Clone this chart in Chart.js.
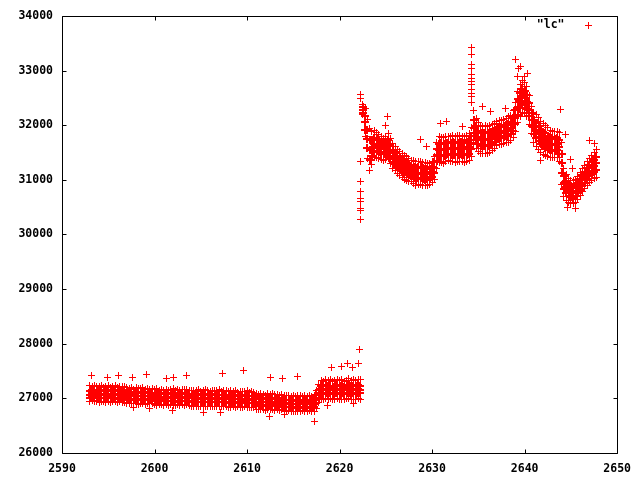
<!DOCTYPE html>
<html><head><meta charset="utf-8">
<script src="https://cdn.jsdelivr.net/npm/chart.js@4"></script>
<style>html,body{margin:0;padding:0;background:#fff}#wrap{width:640px;height:480px}</style>
</head><body><div id="wrap"><canvas id="c" width="640" height="480"></canvas></div>
<script>
const seriesName = '"lc"';
const xTicks = [2590, 2600, 2610, 2620, 2630, 2640, 2650];
const yTicks = [26000, 27000, 28000, 29000, 30000, 31000, 32000, 33000, 34000];

// low-state segment (times and five value rows read across the band)
const lowTimes = [2593,2593.25,2593.5,2593.75,2594,2594.25,2594.5,2594.75,2595,2595.25,2595.5,2595.75,2596,2596.25,2596.5,2596.75,2597,2597.25,2597.5,2597.75,2598,2598.25,2598.5,2598.75,2599,2599.25,2599.5,2599.75,2600,2600.25,2600.5,2600.75,2601,2601.25,2601.5,2601.75,2602,2602.25,2602.5,2602.75,2603,2603.25,2603.5,2603.75,2604,2604.25,2604.5,2604.75,2605,2605.25,2605.5,2605.75,2606,2606.25,2606.5,2606.75,2607,2607.25,2607.5,2607.75,2608,2608.25,2608.5,2608.75,2609,2609.25,2609.5,2609.75,2610,2610.25,2610.5,2610.75,2611,2611.25,2611.5,2611.75,2612,2612.25,2612.5,2612.75,2613,2613.25,2613.5,2613.75,2614,2614.25,2614.5,2614.75,2615,2615.25,2615.5,2615.75,2616,2616.25,2616.5,2616.75,2617,2617.25,2617.5,2617.75,2618,2618.25,2618.5,2618.75,2619,2619.25,2619.5,2619.75,2620,2620.25,2620.5,2620.75,2621,2621.25,2621.5,2621.75,2622,2622.25];
const lowTop = [27240,27210,27230,
27225,27210,27235,27200,27220,27240,27205,27215,27230,27200,27220,27210,27215,27190,27180,27200,
27170,27195,27185,27175,27190,27165,27180,27170,27185,27160,27175,27150,27165,27150,27170,27145,
27160,27175,27150,27165,27140,27160,27155,27170,27150,27135,27150,27140,27155,27130,27145,27160,
27140,27125,27150,27135,27145,27160,27130,27140,27150,27125,27135,27120,27140,27115,27130,27125,
27120,27135,27110,27130,27115,27090,27070,27085,27075,27060,27080,27070,27085,27065,27075,27055,
27070,27050,27045,27060,27040,27055,27035,27050,27045,27030,27050,27040,27055,27035,27060,27150,
27260,27330,27310,27340,27320,27345,27310,27330,27350,27320,27340,27315,27335,27355,27320,27340,
27330,27350,27340];
const lowUp = [27140,27160,27145,
27155,27135,27150,27140,27145,27130,27150,27140,27135,27150,27140,27130,27145,27115,27105,27120,
27110,27100,27120,27105,27115,27100,27110,27095,27105,27090,27080,27095,27085,27075,27090,27080,
27095,27080,27070,27090,27075,27090,27080,27085,27080,27065,27070,27060,27075,27060,27070,27055,
27065,27075,27060,27070,27060,27070,27055,27065,27060,27045,27055,27050,27045,27060,27050,27040,
27055,27045,27050,27040,27040,27010,26995,27005,27000,26990,27005,26995,27000,26985,27010,26990,
26995,26975,26970,26965,26975,26960,26970,26965,26960,26975,26965,26970,26975,26960,26970,27060,
27160,27230,27220,27240,27225,27235,27215,27230,27240,27220,27230,27215,27235,27245,27220,27230,
27225,27240,27230];
const lowMid = [27070,27095,27080,
27090,27070,27080,27075,27070,27085,27065,27080,27075,27060,27080,27070,27065,27050,27040,27055,
27040,27050,27035,27045,27050,27040,27045,27035,27045,27025,27015,27030,27020,27010,27025,27015,
27025,27015,27005,27020,27010,27025,27015,27020,27015,27000,27005,26995,27005,26990,27000,26995,
26995,27005,26990,27000,26990,27005,26995,27000,26995,26985,26980,26990,26980,26990,26985,26975,
26990,26980,26985,26975,26980,26940,26930,26935,26940,26925,26935,26930,26935,26920,26940,26925,
26930,26905,26900,26910,26900,26895,26905,26900,26895,26910,26900,26905,26910,26895,26905,26985,
27080,27165,27150,27170,27155,27165,27150,27160,27170,27150,27160,27155,27165,27175,27150,27160,
27155,27170,27160];
const lowDown = [27010,27030,27015,
27025,27005,27015,27010,27005,27020,27000,27015,27010,26995,27015,27005,27000,26985,26975,26990,
26975,26985,26970,26980,26985,26970,26980,26975,26980,26960,26950,26965,26955,26945,26960,26950,
26960,26950,26940,26955,26945,26960,26950,26955,26950,26935,26940,26930,26940,26925,26935,26930,
26930,26940,26925,26935,26925,26940,26930,26935,26930,26920,26915,26925,26915,26925,26920,26910,
26925,26915,26920,26910,26915,26875,26865,26870,26875,26860,26870,26865,26870,26855,26875,26860,
26865,26840,26835,26845,26835,26830,26840,26835,26830,26845,26835,26840,26845,26830,26840,26910,
27000,27095,27080,27100,27085,27095,27080,27090,27100,27080,27090,27085,27095,27105,27080,27090,
27085,27100,27090];
const lowBottom = [26935,26955,26940,
26950,26930,26940,26935,26930,26945,26925,26940,26935,26920,26940,26930,26925,26910,26900,26915,
26900,26910,26895,26905,26910,26895,26905,26900,26905,26885,26875,26890,26880,26870,26885,26875,
26885,26875,26865,26880,26870,26885,26875,26880,26875,26855,26860,26850,26860,26845,26855,26850,
26850,26860,26845,26855,26845,26860,26850,26855,26850,26840,26835,26845,26835,26845,26840,26830,
26845,26835,26840,26830,26835,26800,26790,26795,26800,26785,26795,26790,26795,26780,26800,26785,
26790,26765,26760,26770,26760,26755,26765,26760,26755,26770,26760,26765,26770,26755,26765,26820,
26920,26990,26975,26995,26980,26990,26975,26985,26995,26975,26985,26980,26990,27000,26975,26985,
26980,26995,26985];

// high-state segment
const highTimes = [2622.5,2622.75,2623,2623.25,2623.5,2623.75,2624,2624.25,2624.5,2624.75,2625,2625.25,2625.5,2625.75,2626,2626.25,2626.5,2626.75,2627,2627.25,2627.5,2627.75,2628,2628.25,2628.5,2628.75,2629,2629.25,2629.5,2629.75,2630,2630.25,2630.5,2630.75,2631,2631.25,2631.5,2631.75,2632,2632.25,2632.5,2632.75,2633,2633.25,2633.5,2633.75,2634,2634.25,2634.5,2634.75,2635,2635.25,2635.5,2635.75,2636,2636.25,2636.5,2636.75,2637,2637.25,2637.5,2637.75,2638,2638.25,2638.5,2638.75,2639,2639.25,2639.5,2639.75,2640,2640.25,2640.5,2640.75,2641,2641.25,2641.5,2641.75,2642,2642.25,2642.5,2642.75,2643,2643.25,2643.5,2643.75,2644,2644.25,2644.5,2644.75,2645,2645.25,2645.5,2645.75,2646,2646.25,2646.5,2646.75,2647,2647.25,2647.5,2647.75];
const highTop = [32380,32310,32110,31930,31880,31900,31860,31830,31790,31760,31800,31850,
31760,31670,31610,31560,31520,31480,31440,31420,31390,31360,31350,31340,31340,31330,31320,31310,
31300,31300,31330,31430,31690,31790,31780,31780,31790,31800,31800,31810,31800,31810,31820,31800,
31800,31810,31850,31950,32270,32130,32040,31990,31980,31990,31980,32000,32010,32030,32060,32080,
32090,32100,32120,32150,32180,32270,32420,32620,32740,32810,32780,32700,32540,32350,32230,32190,
32140,32060,32030,31990,31950,31910,31890,31880,31890,31860,31680,31200,31090,31020,30990,30980,
31010,31060,31130,31200,31260,31330,31390,31450,31500,31550];
const highUp = [32330,32170,31920,31730,31720,31770,31740,31720,31680,31660,31690,31730,
31640,31550,31490,31440,31400,31360,31320,31300,31280,31250,31240,31220,31230,31240,31210,31200,
31190,31200,31230,31320,31560,31660,31670,31650,31670,31680,31680,31690,31670,31680,31690,31690,
31670,31690,31720,31810,32100,31980,31900,31860,31850,31860,31850,31870,31880,31910,31940,31960,
31970,31980,32000,32030,32060,32140,32280,32470,32590,32660,32630,32560,32400,32220,32090,32040,
31990,31910,31880,31850,31810,31780,31760,31750,31760,31720,31480,31070,30970,30900,30880,30870,
30900,30950,31020,31090,31150,31210,31270,31330,31370,31420];
const highMid = [32280,32050,31750,31550,31580,31650,31630,31610,31580,31560,31590,31620,
31530,31440,31390,31340,31300,31260,31220,31200,31180,31160,31140,31120,31130,31120,31110,31100,
31100,31110,31140,31220,31450,31550,31550,31540,31560,31580,31570,31570,31560,31570,31580,31570,
31560,31570,31600,31680,31950,31850,31780,31740,31730,31740,31730,31750,31770,31800,31840,31860,
31870,31880,31900,31920,31950,32020,32150,32330,32450,32520,32500,32430,32280,32100,31960,31900,
31850,31780,31750,31720,31690,31660,31650,31640,31650,31600,31300,30950,30860,30800,30780,30770,
30800,30850,30920,30990,31050,31110,31170,31220,31260,31300];
const highDown = [32230,31920,31580,31370,31440,31530,31520,31500,31480,31470,31490,31510,
31420,31330,31290,31240,31200,31160,31120,31100,31080,31070,31040,31020,31030,31040,31010,31000,
31010,31020,31050,31120,31340,31440,31430,31430,31450,31480,31460,31460,31450,31460,31470,31450,
31450,31460,31480,31560,31800,31720,31660,31620,31610,31620,31610,31630,31660,31690,31740,31760,
31770,31780,31800,31810,31840,31900,32020,32190,32310,32380,32370,32300,32160,31980,31830,31760,
31710,31650,31620,31590,31570,31540,31540,31530,31540,31480,31120,30830,30750,30700,30680,30670,
30700,30750,30820,30890,30950,31010,31070,31110,31150,31180];
const highBottom = [32190,31790,31390,31170,31280,31400,31400,31390,31370,31360,31380,31390,
31300,31210,31170,31120,31080,31040,31000,30980,30970,30960,30930,30900,30920,30910,30900,30890,
30900,30920,30950,31010,31210,31310,31320,31300,31330,31360,31340,31330,31320,31330,31340,31330,
31320,31330,31350,31420,31640,31570,31520,31490,31480,31490,31480,31500,31530,31570,31620,31640,
31650,31660,31680,31690,31720,31770,31880,32040,32160,32230,32220,32160,32020,31850,31690,31610,
31560,31500,31470,31450,31430,31410,31410,31400,31410,31340,30920,30700,30630,30580,30570,30560,
30590,30640,30710,30780,30840,30890,30950,30990,31020,31050];

// isolated points
const outTimes = [2593.2,2594.9,2596.1,2597.6,2599.1,2601.3,2602.0,2603.5,2607.4,2609.6,2612.5,2613.8,2615.5,2619.1,2620.2,2620.9,2621.4,2622.0,2622.2,
2597.7,2599.5,2601.9,2605.3,2607.1,2612.4,2614.1,2617.3,2618.7,2621.5,
2622.3,2622.3,2622.3,2622.3,2622.3,2622.3,2622.3,2622.3,2622.3,2622.3,
2625.2,2625.0,2628.8,2629.4,2630.9,2631.6,2633.3,
2634.3,2634.3,2634.3,2634.3,2634.3,2634.3,2634.3,2634.3,2634.3,2634.3,2634.3,2634.3,
2635.5,2636.3,2637.9,2639.0,2639.3,2639.6,2640.0,2639.2,2640.3,
2643.9,2644.4,2645.0,2645.2,2647.0,2647.5,2644.6,2645.5,2641.7];
const outValues = [27420,27390,27410,27380,27430,27370,27380,27420,27450,27510,27390,27370,27400,27560,27580,27640,27560,27640,27900,
26840,26820,26780,26750,26740,26660,26700,26580,26870,26900,
32560,32480,31340,30975,30790,30665,30610,30480,30430,30280,
32160,32000,31740,31610,32030,32070,31980,
33420,33290,33110,33030,32920,32850,32800,32740,32650,32580,32520,32420,
32350,32250,32300,33200,33030,33070,32890,32890,32950,
32290,31830,31380,31210,31720,31670,30500,30480,31350];

function pairs(ts, vs) { return ts.map((t, i) => ({ x: t, y: vs[i] })).filter(p => p.y !== undefined); }
const edgePoints = [];
[lowTop, lowBottom].forEach(r => edgePoints.push(...pairs(lowTimes, r)));
[highTop, highBottom].forEach(r => edgePoints.push(...pairs(highTimes, r)));
edgePoints.push(...pairs(outTimes, outValues));
const corePoints = [];
[lowUp, lowMid, lowDown].forEach(r => corePoints.push(...pairs(lowTimes, r)));
[highUp, highMid, highDown].forEach(r => corePoints.push(...pairs(highTimes, r)));

const FONT = '"DejaVu Sans Mono", monospace';
const RED = '#ff0000';

// crisp "+" marker images (gnuplot style)
function crossImage(size, thick) {
  const c = document.createElement('canvas');
  c.width = size; c.height = size;
  const g = c.getContext('2d');
  g.fillStyle = RED;
  const m = Math.floor((size - thick) / 2);
  g.fillRect(0, m, size, thick);
  g.fillRect(m, 0, thick, size);
  return c;
}
const thinCross = crossImage(7, 1);
const coreCross = crossImage(8, 2);

const crispPlugin = {
  id: 'crisp',
  beforeDatasetsDraw(chart) { chart.ctx.save(); chart.ctx.imageSmoothingEnabled = false; },
  afterDatasetsDraw(chart) { chart.ctx.restore(); }
};

const framePlugin = {
  id: 'frame',
  afterDraw(chart) {
    const { ctx, chartArea: a, scales: { x, y } } = chart;
    ctx.save();
    ctx.strokeStyle = '#000';
    ctx.lineWidth = 1;
    const L = Math.round(a.left) + 0.5, R = Math.round(a.right) + 0.5;
    const T = Math.round(a.top) + 0.5, B = Math.round(a.bottom) + 0.5;
    ctx.beginPath();
    ctx.rect(L, T, R - L, B - T);
    xTicks.forEach(v => {
      const p = Math.round(x.getPixelForValue(v)) + 0.5;
      ctx.moveTo(p, B); ctx.lineTo(p, B - 4);
      ctx.moveTo(p, T); ctx.lineTo(p, T + 4);
    });
    yTicks.forEach(v => {
      const p = Math.round(y.getPixelForValue(v)) + 0.5;
      ctx.moveTo(L, p); ctx.lineTo(L + 4, p);
      ctx.moveTo(R, p); ctx.lineTo(R - 4, p);
    });
    ctx.stroke();
    // key
    ctx.fillStyle = '#000';
    ctx.font = 'bold 11.5px ' + FONT;
    ctx.textAlign = 'right';
    ctx.textBaseline = 'middle';
    ctx.fillText(seriesName, R - 53, T + 9);
    ctx.imageSmoothingEnabled = false;
    ctx.drawImage(thinCross, Math.round(R - 30) - 3, Math.round(T + 8) - 3);
    ctx.restore();
  }
};

new Chart(document.getElementById('c'), {
  type: 'scatter',
  data: {
    datasets: [{
      label: seriesName,
      data: edgePoints,
      pointStyle: thinCross,
      pointRadius: 4,
      borderColor: RED,
      backgroundColor: RED,
      showLine: false
    }, {
      label: seriesName,
      data: corePoints,
      pointStyle: coreCross,
      pointRadius: 4,
      borderColor: RED,
      backgroundColor: RED,
      showLine: false
    }]
  },
  options: {
    responsive: false,
    animation: false,
    events: [],
    layout: { padding: { left: 0, top: 14, right: 21, bottom: 0 } },
    plugins: { legend: { display: false }, tooltip: { enabled: false } },
    scales: {
      x: {
        type: 'linear', min: 2590, max: 2650,
        afterBuildTicks: s => { s.ticks = xTicks.map(v => ({ value: v })); },
        afterFit: s => { s.height = 27; },
        grid: { display: false, drawTicks: false },
        border: { display: false },
        ticks: { color: '#000', padding: 9, maxRotation: 0, autoSkip: false,
                 font: { family: FONT, size: 11.5, weight: 'bold' },
                 callback: v => String(v) }
      },
      y: {
        type: 'linear', min: 26000, max: 34000,
        afterBuildTicks: s => { s.ticks = yTicks.map(v => ({ value: v })); },
        afterFit: s => { s.width = 62; },
        grid: { display: false, drawTicks: false },
        border: { display: false },
        ticks: { color: '#000', padding: 9, autoSkip: false,
                 font: { family: FONT, size: 11.5, weight: 'bold' },
                 callback: v => String(v) }
      }
    }
  },
  plugins: [crispPlugin, framePlugin]
});
</script>
</body></html>
